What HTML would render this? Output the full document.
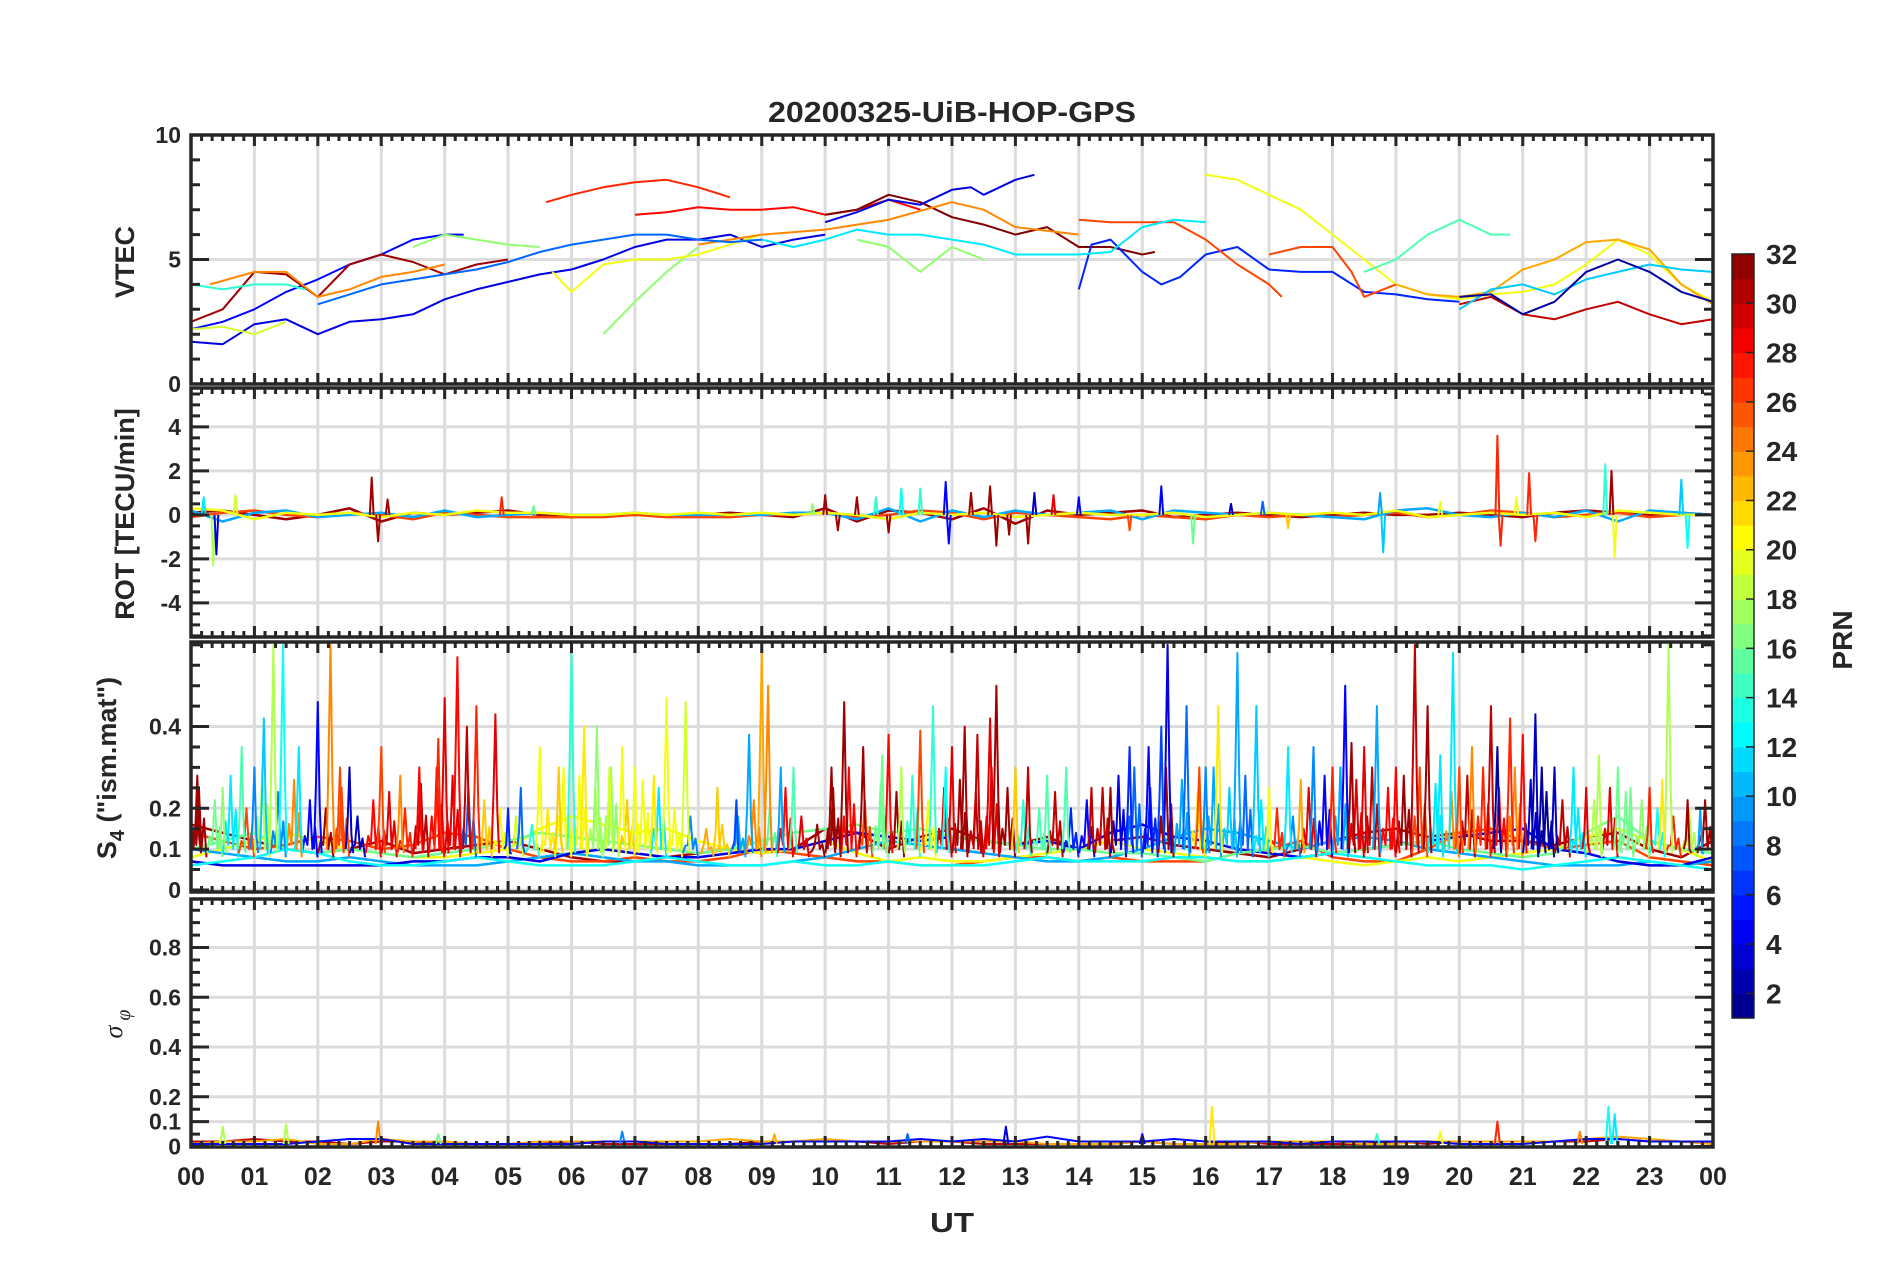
<!DOCTYPE html>
<html><head><meta charset="utf-8">
<style>
html,body{margin:0;padding:0;background:#fff;}
svg{display:block;}
text{font-family:"Liberation Sans",sans-serif;font-weight:bold;fill:#262626;}
</style></head>
<body>
<svg id="chart" width="1902" height="1272" viewBox="0 0 1902 1272" xmlns="http://www.w3.org/2000/svg">
<rect x="0" y="0" width="1902" height="1272" fill="#fff"/>
<g id="grid"></g><g id="data"></g><g id="frames"></g><g id="labels"></g>
<text x="952" y="122" font-size="29" text-anchor="middle" textLength="368" lengthAdjust="spacingAndGlyphs">20200325-UiB-HOP-GPS</text>
<text transform="translate(134,262) rotate(-90)" font-size="27" text-anchor="middle">VTEC</text>
<text transform="translate(134,514) rotate(-90)" font-size="27" text-anchor="middle">ROT [TECU/min]</text>
<text transform="translate(116,768) rotate(-90)" font-size="27" text-anchor="middle">S<tspan font-size="20" dy="8">4</tspan><tspan dy="-8"> ("ism.mat")</tspan></text>
<text transform="translate(122,1024) rotate(-90)" font-size="26" text-anchor="middle" style="font-family:'Liberation Serif',serif;font-weight:normal;font-style:italic">σ<tspan font-size="20" dy="8"> φ</tspan></text>
<text x="952" y="1232" font-size="28" text-anchor="middle" textLength="44" lengthAdjust="spacingAndGlyphs">UT</text>
<text transform="translate(1852,640) rotate(-90)" font-size="28" text-anchor="middle">PRN</text>
<g id="colorbar"></g>
</svg>
<script>
// ---------- DATA ----------
const hourTicks = ["00","01","02","03","04","05","06","07","08","09","10","11","12","13","14","15","16","17","18","19","20","21","22","23","00"];
const colorbarTicks = [2,4,6,8,10,12,14,16,18,20,22,24,26,28,30,32];

// VTEC series: PRN, times (h), values (TECU)
const vtecPrn = [4,5,31,27,28,32,4,6,26,20,12,17,20,24,24,15,23,30,11,2,14,19,17,26,17,8];
const vtecT = [
 [0,0.5,1,1.5,2,2.5,3,3.5,4,4.5,5,5.5,6,6.5,7,7.5,8,8.5,9,9.5,10],
 [0,0.5,1,1.5,2,2.5,3,3.5,4,4.3],
 [0,0.5,1,1.5,2,2.5,3,3.5,4,4.5,5],
 [5.6,6,6.5,7,7.5,8,8.5],
 [7,7.5,8,8.5,9,9.5,10,10.5,11,11.5],
 [10,10.5,11,11.5,12,12.5,13,13.5,14,14.5,15,15.2],
 [10,10.5,11,11.5,12,12.3,12.5,13,13.3],
 [14,14.2,14.5,15,15.3,15.6,16,16.5,17,17.5,18,18.5,19,19.5,20],
 [14,14.5,15,15.5,16,16.5,17,17.2],
 [16,16.5,17,17.5,18,18.5,19,19.5,20,20.5,21,21.5,22,22.5,23,23.5,24],
 [9,9.5,10,10.5,11,11.5,12,12.5,13,13.5,14,14.5,15,15.5,16],
 [6.5,7,7.5,8],
 [5.7,6,6.5,7,7.5,8,8.5,9],
 [0.3,1,1.5,2,2.5,3,3.5,4],
 [8,9,10,11,12,12.5,13,14],
 [18.5,19,19.5,20,20.5,20.8],
 [19,19.5,20,20.5,21,21.5,22,22.5,23,23.5,24],
 [20,20.5,21,21.5,22,22.5,23,23.5,24],
 [20,20.5,21,21.5,22,22.5,23,23.5,24],
 [20,20.5,21,21.5,22,22.5,23,23.5,24],
 [0,0.5,1,1.5,1.8],
 [0,0.5,1,1.5],
 [3.5,4,4.5,5,5.5],
 [17,17.5,18,18.3,18.5,19],
 [10.5,11,11.5,12,12.5],
 [2,2.5,3,3.5,4,4.5,5,5.5,6,6.5,7,7.5,8,8.5,9]
];
const vtecV = [
 [1.7,1.6,2.4,2.6,2.0,2.5,2.6,2.8,3.4,3.8,4.1,4.4,4.6,5.0,5.5,5.8,5.8,6.0,5.5,5.8,6.0],
 [2.2,2.5,3.0,3.7,4.2,4.8,5.2,5.8,6.0,6.0],
 [2.5,3.0,4.5,4.4,3.5,4.8,5.2,4.9,4.4,4.8,5.0],
 [7.3,7.6,7.9,8.1,8.2,7.9,7.5],
 [6.8,6.9,7.1,7.0,7.0,7.1,6.8,7.0,7.4,7.0],
 [6.8,7.0,7.6,7.3,6.7,6.4,6.0,6.3,5.5,5.5,5.2,5.3],
 [6.5,6.9,7.4,7.2,7.8,7.9,7.6,8.2,8.4],
 [3.8,5.6,5.8,4.5,4.0,4.3,5.2,5.5,4.6,4.5,4.5,3.7,3.6,3.4,3.3],
 [6.6,6.5,6.5,6.5,5.8,4.8,4.0,3.5],
 [8.4,8.2,7.6,7.0,6.0,5.0,4.0,3.6,3.4,3.6,3.7,4.0,4.8,5.8,5.2,4.0,3.3],
 [5.8,5.5,5.8,6.2,6.0,6.0,5.8,5.6,5.2,5.2,5.2,5.3,6.3,6.6,6.5],
 [2.0,3.3,4.5,5.5],
 [4.5,3.7,4.8,5.0,5.0,5.2,5.6,6.0],
 [4.0,4.5,4.5,3.5,3.8,4.3,4.5,4.8],
 [5.6,6.0,6.2,6.6,7.3,7.0,6.3,6.0],
 [4.5,5.0,6.0,6.6,6.0,6.0],
 [4.0,3.6,3.5,3.7,4.6,5.0,5.7,5.8,5.4,4.0,3.2],
 [3.2,3.5,2.8,2.6,3.0,3.3,2.8,2.4,2.6],
 [3.0,3.8,4.0,3.6,4.2,4.5,4.8,4.6,4.5],
 [3.5,3.6,2.8,3.3,4.5,5.0,4.5,3.7,3.3],
 [4.0,3.8,4.0,4.0,3.8],
 [2.2,2.3,2.0,2.5],
 [5.5,6.0,5.8,5.6,5.5],
 [5.2,5.5,5.5,4.5,3.5,4.0],
 [5.8,5.5,4.5,5.5,5.0],
 [3.2,3.6,4.0,4.2,4.4,4.6,4.9,5.3,5.6,5.8,6.0,6.0,5.8,5.7,5.8]
];

// ROT baseline series (every 0.5 h) and spikes
const rotPrn = [31,26,10,20];
const rotV = [
 [0.1,0.2,0,-0.2,0,0.3,-0.3,0.1,0,0.1,0.2,0,-0.1,0,0,0,0,0.1,0,-0.1,0.3,-0.3,0.2,0.1,-0.2,0.3,-0.4,0.2,0,0.1,0.2,-0.1,0,0.1,0,-0.1,0,0.1,0,0,0.1,0,-0.1,0.1,0.2,0.1,0,0.1,0],
 [-0.1,0.1,0.2,0,-0.1,0.1,0,-0.2,0.1,0,-0.1,-0.1,-0.1,-0.1,0,-0.1,-0.1,-0.1,0,0,0.1,-0.1,0,0.2,0.1,-0.2,0.1,0,-0.1,-0.2,0,-0.1,-0.2,0,-0.1,0,-0.1,0,0.1,-0.1,0,0.2,0.1,-0.1,0,0.1,-0.1,0,0],
 [0.2,-0.3,0.1,0.2,-0.1,0,0.1,-0.1,0.2,-0.1,0,0.1,0,0,0.1,0,0,0,0,0.1,0.1,-0.2,0.3,-0.3,0.2,-0.1,0.2,0,0.1,0.2,-0.2,0.2,0.1,0,0.1,0,-0.1,-0.2,0.2,0.3,0,-0.1,0.1,-0.1,0.2,-0.3,0.2,0.1,0],
 [0.3,0.2,-0.2,0.1,0,0.1,-0.1,0.1,0,0.2,0.1,0.1,0,0,0.1,0,0.1,0,0.1,0,0.1,0,-0.2,0.1,0,0.1,-0.1,0,0.1,0,0,0.1,-0.1,0,0.1,0,0.1,0,0.2,-0.1,0,0.1,0,0.1,-0.1,0.2,0.1,0,0]
];
const rotSpikeT = [0.35,0.4,2.85,2.95,4.9,10.0,11.2,11.9,11.95,12.6,12.7,13.3,13.2,14.0,15.3,15.8,18.8,18.75,20.6,20.65,21.1,21.2,22.3,22.4,22.45,23.5,23.6,9.8,10.8,11.5,16.4,20.9,19.7,5.4,10.2,10.5,11.0,12.3,12.9,13.6,0.2,0.7,3.1,14.8,16.9,17.3];
const rotSpikeV = [-2.3,-1.8,1.7,-1.2,0.8,0.9,1.2,1.5,-1.3,1.3,-1.4,1.0,-1.3,0.8,1.3,-1.3,-1.7,1.0,3.6,-1.4,1.9,-1.2,2.3,2.0,-1.9,1.6,-1.5,0.5,0.8,1.2,0.5,0.8,0.6,0.4,-0.7,0.8,-0.8,1.0,-0.9,0.9,0.8,0.9,0.7,-0.7,0.6,-0.6];
const rotSpikePrn = [18,4,31,31,27,31,13,5,5,31,31,3,31,5,5,16,11,10,27,27,27,27,14,31,20,11,13,17,14,14,3,20,20,16,31,31,31,31,31,29,12,19,31,26,8,22];

// S4 baseline series (every 0.5 h) and spikes
const s4Prn = [31,26,20,10,4,16,13];
const s4V = [
 [0.16,0.14,0.12,0.1,0.09,0.1,0.12,0.09,0.1,0.11,0.12,0.1,0.08,0.07,0.07,0.08,0.09,0.1,0.09,0.1,0.15,0.14,0.1,0.13,0.15,0.12,0.11,0.13,0.1,0.12,0.13,0.11,0.1,0.09,0.08,0.1,0.12,0.14,0.15,0.13,0.14,0.12,0.12,0.11,0.13,0.14,0.1,0.08,0.12],
 [0.14,0.12,0.1,0.11,0.13,0.12,0.1,0.11,0.14,0.13,0.1,0.08,0.07,0.07,0.08,0.07,0.07,0.08,0.1,0.09,0.08,0.07,0.07,0.06,0.06,0.07,0.08,0.08,0.07,0.08,0.07,0.07,0.07,0.09,0.1,0.12,0.08,0.07,0.07,0.1,0.14,0.15,0.12,0.1,0.11,0.12,0.08,0.07,0.06],
 [0.08,0.1,0.12,0.14,0.12,0.1,0.09,0.08,0.08,0.09,0.1,0.15,0.18,0.16,0.14,0.15,0.12,0.1,0.09,0.1,0.12,0.09,0.07,0.08,0.07,0.07,0.08,0.09,0.1,0.12,0.1,0.09,0.08,0.07,0.07,0.08,0.07,0.06,0.07,0.08,0.07,0.08,0.09,0.1,0.13,0.15,0.12,0.1,0.07],
 [0.1,0.09,0.08,0.07,0.07,0.08,0.07,0.06,0.06,0.06,0.07,0.08,0.09,0.08,0.07,0.07,0.06,0.06,0.06,0.07,0.08,0.1,0.12,0.11,0.1,0.09,0.08,0.07,0.07,0.08,0.1,0.13,0.15,0.14,0.12,0.1,0.12,0.13,0.12,0.1,0.09,0.08,0.07,0.06,0.06,0.06,0.07,0.06,0.07],
 [0.07,0.06,0.06,0.06,0.06,0.06,0.06,0.07,0.07,0.08,0.08,0.07,0.09,0.1,0.09,0.08,0.08,0.09,0.1,0.1,0.12,0.14,0.13,0.12,0.13,0.12,0.11,0.12,0.1,0.14,0.16,0.13,0.12,0.1,0.09,0.08,0.09,0.1,0.11,0.12,0.13,0.14,0.15,0.1,0.09,0.07,0.06,0.06,0.08],
 [0.1,0.12,0.14,0.1,0.09,0.1,0.09,0.08,0.09,0.1,0.12,0.14,0.13,0.12,0.11,0.1,0.09,0.1,0.12,0.14,0.15,0.16,0.14,0.15,0.13,0.12,0.11,0.1,0.1,0.09,0.09,0.08,0.07,0.09,0.1,0.11,0.09,0.1,0.11,0.12,0.1,0.09,0.08,0.09,0.14,0.18,0.12,0.1,0.09],
 [0.06,0.07,0.08,0.1,0.09,0.07,0.06,0.06,0.07,0.08,0.07,0.06,0.06,0.06,0.07,0.08,0.07,0.06,0.06,0.07,0.06,0.06,0.07,0.06,0.06,0.06,0.07,0.08,0.07,0.07,0.07,0.08,0.08,0.07,0.07,0.08,0.09,0.08,0.07,0.06,0.06,0.06,0.05,0.06,0.07,0.08,0.07,0.06,0.05]
];
const s4SpikeT = [1.3,1.45,2.0,2.2,2.5,3.0,3.6,4.0,4.2,4.5,4.8,5.5,6.0,6.4,6.8,7.5,7.8,9.0,9.1,8.8,10.3,11.0,11.5,11.7,12.2,12.6,12.7,13.2,13.8,14.8,15.4,15.7,16.2,16.5,16.8,17.3,17.7,18.2,18.7,19.3,19.5,19.9,20.5,20.8,21.3,21.2,21.8,22.2,22.5,23.3,23.0,23.8,0.1,0.5,0.8,1.0,1.7,5.0,5.8,6.2,7.0,8.3,9.5,10.6,11.2,12.0,13.0,14.2,15.1,15.9,17.0,18.0,18.5,19.0,20.2,21.0,22.0,23.6,1.15,2.35,3.3,3.9,4.35,5.2,6.6,7.3,8.6,9.3,10.1,10.9,11.9,12.4,13.5,14.5,15.3,16.0,17.5,18.3,19.7,20.0,20.6,21.5,22.7,23.2];
const s4SpikeV = [0.6,0.6,0.46,0.6,0.3,0.35,0.3,0.47,0.57,0.45,0.43,0.35,0.58,0.4,0.35,0.47,0.46,0.58,0.5,0.38,0.46,0.38,0.39,0.45,0.4,0.42,0.5,0.3,0.3,0.35,0.6,0.45,0.45,0.58,0.45,0.35,0.35,0.5,0.45,0.6,0.45,0.58,0.45,0.42,0.3,0.43,0.3,0.33,0.3,0.6,0.25,0.2,0.28,0.25,0.35,0.3,0.35,0.2,0.3,0.4,0.3,0.25,0.3,0.35,0.3,0.35,0.3,0.25,0.35,0.3,0.25,0.3,0.35,0.3,0.35,0.38,0.25,0.22,0.42,0.3,0.28,0.37,0.4,0.25,0.3,0.28,0.22,0.3,0.3,0.33,0.3,0.38,0.28,0.25,0.4,0.3,0.27,0.36,0.33,0.3,0.35,0.3,0.25,0.27];
const s4SpikePrn = [18,13,5,24,3,26,28,29,28,27,29,20,14,17,20,20,19,23,24,10,31,28,26,14,31,29,31,30,15,6,4,8,21,10,11,12,9,5,10,30,31,12,30,27,2,3,12,18,16,18,27,10,31,17,15,9,12,6,22,21,20,22,15,31,18,29,22,30,5,26,20,27,29,28,24,28,29,31,11,26,24,27,30,8,19,21,7,10,31,16,13,30,15,31,7,9,23,31,12,26,2,3,16,21];
// S4 small fluctuations, one per quarter hour (value, PRN)
const s4SmallV = [0.25,0.22,0.28,0.2,0.3,0.24,0.27,0.22, 0.2,0.25,0.18,0.22,0.24,0.2,0.26,0.3, 0.28,0.25,0.22,0.2,0.18,0.16,0.2,0.3, 0.28,0.25,0.3,0.22,0.27,0.25,0.2,0.18, 0.15,0.16,0.18,0.22,0.2,0.25,0.18,0.16, 0.25,0.3,0.22,0.26,0.24,0.28,0.22,0.25, 0.27,0.24,0.3,0.25,0.22,0.2,0.24,0.2, 0.22,0.25,0.28,0.3,0.25,0.3,0.27,0.24, 0.3,0.25,0.28,0.22,0.2,0.18,0.25,0.28, 0.3,0.27,0.3,0.25,0.28,0.3,0.26,0.24, 0.28,0.3,0.25,0.3,0.27,0.24,0.22,0.2, 0.22,0.25,0.24,0.22,0.2,0.18,0.2,0.22];
const s4SmallPrn = [31,16,12,26,18,9,24,5, 31,26,3,28,29,27,30,28, 29,8,22,20,19,14,21,20, 20,18,17,22,20,12,20,9, 23,22,10,24,15,28,29,31, 31,28,26,16,31,14,20,29, 31,30,29,31,14,15,30,6, 5,30,4,8,6,31,10,21, 10,11,8,12,27,9,29,5, 10,29,30,28,31,26,12,24, 30,27,28,24,3,2,30,12, 18,29,16,17,13,27,18,31];

// Sigma-phi baseline series (every 0.5 h) and spikes
const sigPrn = [30,23,5];
const sigV = [
 [0.02,0.02,0.03,0.02,0.02,0.01,0.02,0.02,0.01,0.01,0.01,0.01,0.02,0.01,0.01,0.01,0.01,0.01,0.02,0.02,0.02,0.02,0.01,0.02,0.02,0.01,0.01,0.01,0.01,0.01,0.02,0.01,0.01,0.02,0.01,0.01,0.01,0.01,0.02,0.01,0.02,0.02,0.02,0.02,0.02,0.03,0.02,0.02,0.01],
 [0.01,0.02,0.02,0.03,0.01,0.01,0.03,0.02,0.02,0.01,0.01,0.02,0.02,0.02,0.02,0.02,0.02,0.03,0.02,0.02,0.03,0.02,0.02,0.02,0.02,0.02,0.02,0.01,0.01,0.01,0.02,0.01,0.01,0.01,0.02,0.02,0.02,0.01,0.01,0.02,0.02,0.02,0.02,0.02,0.03,0.04,0.03,0.02,0.01],
 [0.01,0.01,0.01,0.01,0.02,0.03,0.03,0.01,0.01,0.01,0.01,0.01,0.01,0.02,0.02,0.01,0.01,0.01,0.01,0.02,0.02,0.02,0.02,0.03,0.02,0.03,0.02,0.04,0.02,0.02,0.02,0.03,0.02,0.02,0.02,0.01,0.02,0.02,0.02,0.02,0.01,0.01,0.01,0.02,0.03,0.03,0.02,0.02,0.02]
];
const sigSpikeT = [16.1,22.35,22.45,2.95,19.7,12.85,6.8,0.5,1.5,20.6,15.0,18.7,9.2,11.3,3.9,21.9];
const sigSpikeV = [0.16,0.16,0.13,0.1,0.06,0.08,0.06,0.08,0.09,0.1,0.05,0.05,0.05,0.05,0.05,0.06];
const sigSpikePrn = [21,13,12,24,20,4,9,18,18,27,4,14,23,8,16,24];

// ---------- LAYOUT ----------
const X0 = 191, X1 = 1713;
const panels = [
 {name:'vtec', top:135, bottom:384, min:0, max:10, majors:[0,5,10], labels:['0','5','10'], minorStep:1},
 {name:'rot', top:388, bottom:637, min:-5.55, max:5.77, majors:[-4,-2,0,2,4], labels:['-4','-2','0','2','4'], minorStep:0.5},
 {name:'s4', top:642, bottom:892, min:-0.005, max:0.607, majors:[0,0.1,0.2,0.4], labels:['0','0.1','0.2','0.4'], minorStep:0.05},
 {name:'sigma-phi', top:899, bottom:1147, min:-0.002, max:0.995, majors:[0,0.1,0.2,0.4,0.6,0.8], labels:['0','0.1','0.2','0.4','0.6','0.8'], minorStep:0.05}
];
const NS = 'http://www.w3.org/2000/svg';
function xs(h){ return X0 + h*(X1-X0)/24; }
function ys(p, v){ return p.bottom - (v - p.min)/(p.max - p.min)*(p.bottom - p.top); }
function jet(prn){
  const v = (prn-1)/31;
  const c = t => Math.round(255*Math.max(0, Math.min(1, 1.5 - Math.abs(4*v - t))));
  return 'rgb(' + c(3) + ',' + c(2) + ',' + c(1) + ')';
}
function mk(tag, attrs, parent){
  const e = document.createElementNS(NS, tag);
  for (const k in attrs) e.setAttribute(k, attrs[k]);
  parent.appendChild(e);
  return e;
}
const gGrid = document.getElementById('grid');
const gData = document.getElementById('data');
const gFrames = document.getElementById('frames');
const gLabels = document.getElementById('labels');

panels.forEach((p) => {
  for (let h = 1; h < 24; h++){
    const l = mk('line', {x1:xs(h), x2:xs(h), y1:p.top, y2:p.bottom, stroke:'#dcdcdc', 'stroke-width':3}, gGrid);
    
    
  }
  p.majors.forEach((v, i) => {
    const y = ys(p, v);
    if (y > p.top + 2 && y < p.bottom - 2){
      const l = mk('line', {x1:X0, x2:X1, y1:y, y2:y, stroke:'#dcdcdc', 'stroke-width':3}, gGrid);
      
      
    }
    const t = mk('text', {x:181, y:y+8, 'font-size':23, 'text-anchor':'end'}, gLabels);
    t.textContent = p.labels[i];
    
    
  });
  const fr = mk('rect', {x:X0, y:p.top, width:X1-X0, height:p.bottom-p.top, fill:'none', stroke:'#262626', 'stroke-width':3.5}, gFrames);
  
  
  let d = '';
  for (let m = 0; m <= 144; m++){
    const x = xs(m/6);
    const len = (m % 6 === 0) ? 11 : 6;
    d += 'M' + x + ' ' + p.top + 'v' + len + 'M' + x + ' ' + p.bottom + 'v' + (-len);
  }
  const start = Math.ceil(p.min / p.minorStep) * p.minorStep;
  for (let v = start; v <= p.max + 1e-9; v += p.minorStep){
    const y = ys(p, v);
    const isMaj = p.majors.some(m => Math.abs(m - v) < 1e-6);
    const len = isMaj ? 18 : 9;
    d += 'M' + X0 + ' ' + y + 'h' + len + 'M' + X1 + ' ' + y + 'h' + (-len);
  }
  const tk = mk('path', {d:d, stroke:'#262626', 'stroke-width':3, fill:'none'}, gFrames);
  
  
});

function drawLine(p, ts, vs, prn, w){
  const pts = ts.map((t, i) => xs(t).toFixed(1) + ',' + ys(p, vs[i]).toFixed(1)).join(' ');
  const l = mk('polyline', {points:pts, fill:'none', stroke:jet(prn), 'stroke-width':w, 'stroke-linejoin':'round'}, gData);
  
  
}
const halfHours = [];
for (let i = 0; i <= 48; i++) halfHours.push(i/2);

// VTEC
vtecT.forEach((ts, i) => drawLine(panels[0], ts, vtecV[i], vtecPrn[i], 2));
// ROT
rotV.forEach((vs, i) => drawLine(panels[1], halfHours, vs, rotPrn[i], 2.5));
rotSpikeT.forEach((t, i) => {
  drawLine(panels[1], [t-0.03, t, t+0.03], [0, rotSpikeV[i], 0], rotSpikePrn[i], 2);
});
// S4
s4V.forEach((vs, i) => drawLine(panels[2], halfHours, vs, s4Prn[i], 2.5));
s4SmallV.forEach((v, i) => {
  const t = 0.125 + i*0.25;
  drawLine(panels[2], [t-0.12, t-0.08, t-0.04, t, t+0.04, t+0.08, t+0.12], [0.09, v*0.6, 0.11, v, 0.1, v*0.7, 0.08], s4SmallPrn[i], 2);
});
s4SpikeT.forEach((t, i) => {
  drawLine(panels[2], [t-0.06, t-0.03, t, t+0.03, t+0.06], [0.1, s4SpikeV[i]*0.55, s4SpikeV[i], s4SpikeV[i]*0.45, 0.09], s4SpikePrn[i], 2);
});
// Sigma phi
sigV.forEach((vs, i) => drawLine(panels[3], halfHours, vs, sigPrn[i], 2));
sigSpikeT.forEach((t, i) => {
  drawLine(panels[3], [t-0.04, t, t+0.04], [0.01, sigSpikeV[i], 0.01], sigSpikePrn[i], 2);
});

hourTicks.forEach((lab, i) => {
  const t = mk('text', {x:xs(i), y:1185, 'font-size':25, 'text-anchor':'middle'}, gLabels);
  t.textContent = lab;
  
  
});

// colorbar
const gCb = document.getElementById('colorbar');
const cbTop = 254, cbBot = 1018, cbX = 1732, cbW = 22;
const nBlocks = 31;
for (let k = 0; k < nBlocks; k++){
  const h = (cbBot - cbTop)/nBlocks;
  const r = mk('rect', {x:cbX, y:cbBot - (k+1)*h, width:cbW, height:h+0.6, fill:jet(k+1.5)}, gCb);
  
  
}
const cbf = mk('rect', {x:cbX, y:cbTop, width:cbW, height:cbBot-cbTop, fill:'none', stroke:'#262626', 'stroke-width':1.5}, gCb);


colorbarTicks.forEach(v => {
  const y = cbBot - (v-1)/31*(cbBot - cbTop);
  const l = mk('line', {x1:cbX+cbW-8, x2:cbX+cbW, y1:y, y2:y, stroke:'#262626', 'stroke-width':1.5}, gCb);
  
  
  const t = mk('text', {x:cbX+cbW+12, y:y+10, 'font-size':28}, gCb);
  t.textContent = String(v);
  
  
});
</script>
</body></html>
